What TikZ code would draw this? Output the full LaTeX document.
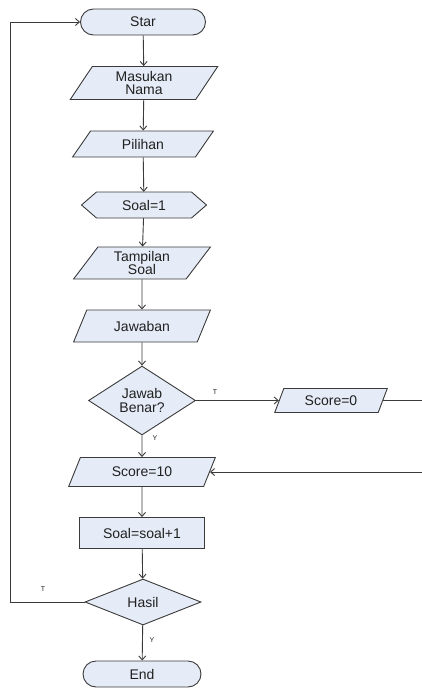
\documentclass[tikz,border=0pt]{standalone}
\usepackage{fontspec}
\setmainfont{Liberation Sans}
\usetikzlibrary{shapes.geometric,arrows.meta}
\definecolor{boxfill}{HTML}{E6ECF7}
\definecolor{linec}{HTML}{3A3A3A}
\definecolor{txtc}{HTML}{202020}
\tikzset{
  base/.style={draw=linec, fill=boxfill, line width=0.9pt, text=txtc,
    font=\fontsize{14}{13.5}\selectfont, align=center, inner sep=0pt},
  term/.style={base, rectangle, rounded corners=13pt},
  io/.style={base, trapezium, trapezium stretches=true},
  proc/.style={base, rectangle},
  decision/.style={base, diamond},
  hexbox/.style={draw=linec, fill=boxfill, line width=0.9pt},
  ghost/.style={rectangle, inner sep=0pt, text=txtc,
    font=\fontsize{14}{13.5}\selectfont, align=center},
  arr/.style={draw=linec, line width=0.9pt, -{Straight Barb[length=4pt,width=7pt]}},
  lbl/.style={text=txtc, font=\fontsize{7}{7}\selectfont, inner sep=0pt}
}
\begin{document}
\begin{tikzpicture}[x=1pt,y=-1pt]
\useasboundingbox (0,0) rectangle (421,688);
% nodes
\node[term, minimum width=125pt, minimum height=26pt] (start) at (143,22) {Star};
\node[io, trapezium left angle=63, trapezium right angle=117, minimum width=148pt, minimum height=33pt] (masukan) at (144,83) {Masukan\\Nama};
\node[io, trapezium left angle=55, trapezium right angle=125, minimum width=141pt, minimum height=26pt] (pilihan) at (143,144) {Pilihan};
\path[hexbox] (96.5,192) -- (191.5,192) -- (206.5,205) -- (191.5,218) -- (96.5,218) -- (81.5,205) -- cycle;
\node[ghost, minimum width=125pt, minimum height=26pt] (soal1) at (144,205) {Soal=1};
\node[io, trapezium left angle=57, trapezium right angle=123, minimum width=137pt, minimum height=32pt] (tampil) at (142,263) {Tampilan\\Soal};
\node[io, trapezium left angle=57, trapezium right angle=123, minimum width=137pt, minimum height=32pt] (jawaban) at (142,326) {Jawaban};
\node[decision, minimum width=107pt, minimum height=54pt] (jb) at (142,400.5) {Jawab\\Benar?};
\node[io, trapezium left angle=63, trapezium right angle=117, minimum width=113pt, minimum height=24pt] (score0) at (331,400.5) {Score=0};
\node[io, trapezium left angle=60, trapezium right angle=120, minimum width=147pt, minimum height=29pt] (score10) at (142,472) {Score=10};
\node[proc, minimum width=125pt, minimum height=31pt] (inc) at (142,533) {Soal=soal+1};
\node[decision, minimum width=116pt, minimum height=46pt] (hasil) at (143,602) {Hasil};
\node[term, minimum width=118pt, minimum height=26pt] (end) at (142,674) {End};
% helper coordinates
\coordinate (lp) at (10,0);
\coordinate (rp) at (426,0);
% connectors
\draw[arr] (start) -- (masukan);
\draw[arr] (masukan) -- (pilihan);
\draw[arr] (pilihan) -- (soal1);
\draw[arr] (soal1) -- (tampil);
\draw[arr] (tampil) -- (jawaban);
\draw[arr] (jawaban) -- (jb);
\draw[arr] (jb) -- (score10);
\draw[arr] (jb.east) -- (score0.west);
\draw[arr] (score0.east) -- (score0.east -| rp) |- (score10.east);
\draw[arr] (score10) -- (inc);
\draw[arr] (inc) -- (hasil);
\draw[arr] (hasil) -- (end);
\draw[arr] (hasil.west) -- (hasil.west -| lp) |- (start.west);
% labels
\node[lbl] (t1) at (215,392) {T};
\node[lbl] (y1) at (155,438) {Y};
\node[lbl] (t2) at (43,589) {T};
\node[lbl] (y2) at (152,640) {Y};
\end{tikzpicture}
\end{document}
